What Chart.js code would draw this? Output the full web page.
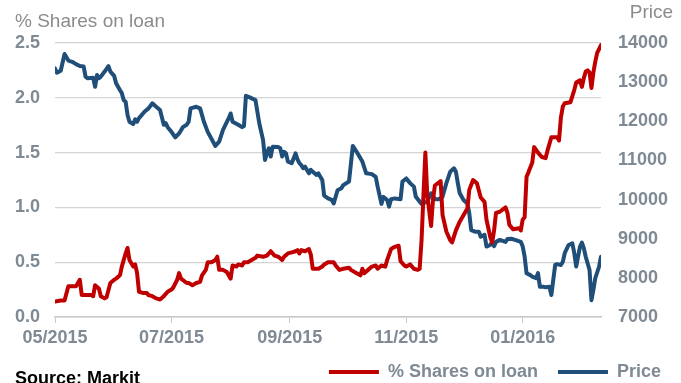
<!DOCTYPE html>
<html>
<head>
<meta charset="utf-8">
<script src="https://cdn.jsdelivr.net/npm/chart.js@4"></script>
<style>
    body { margin: 0; background: #fff; }
    #wrap { position: relative; width: 681px; height: 383px; overflow: hidden; font-family: "Liberation Sans", Arial, sans-serif; }
    .note { position: absolute; white-space: nowrap; }
    #leftTitle { left: 15px; top: 10px; font-size: 19px; color: #8c8c8c; }
    #rightTitle { right: 8px; top: 1px; font-size: 19px; color: #8c8c8c; }
    #source { left: 15px; top: 368px; font-size: 18px; font-weight: bold; color: #000; }
</style>
</head>
<body>
<div id="wrap">
    <canvas id="chart" width="681" height="383"></canvas>
    <div class="note" id="leftTitle">% Shares on loan</div>
    <div class="note" id="rightTitle">Price</div>
    <div class="note" id="source">Source: Markit</div>
</div>
<script>
// x values are days counted from 1 May 2015
const monthDays = [0, 61, 123, 184, 245];
const monthLabels = ['05/2015', '07/2015', '09/2015', '11/2015', '01/2016'];

// % shares on loan (left axis)
const loanDays = [0, 3, 5, 7, 9, 11, 13, 14, 17, 19,
    20, 21, 23, 24, 26, 27, 29, 31, 32, 34,
    35, 37, 38, 39, 41, 42, 43, 44, 46, 48,
    49, 51, 53, 55, 57, 59, 61, 62, 64, 65,
    66, 69, 70, 72, 74, 76, 77, 79, 80, 82,
    84, 85, 86, 88, 90, 92, 93, 95, 96, 98,
    99, 101, 103, 105, 106, 109, 111, 113, 115, 117,
    119, 120, 122, 124, 126, 127, 128, 129, 131, 133,
    134, 135, 138, 140, 141, 143, 146, 147, 149, 151,
    154, 155, 158, 160, 161, 162, 164, 166, 168, 169,
    171, 173, 174, 176, 178, 180, 181, 183, 184, 186,
    188, 190, 191, 192, 193, 194, 195, 197, 198, 199,
    202, 203, 205, 207, 208, 210, 212, 216, 217, 219,
    221, 223, 225, 226, 228, 229, 230, 231, 233, 236,
    237, 238, 240, 243, 244, 245, 246, 247, 248, 250,
    251, 253, 255, 257, 258, 260, 263, 264, 265, 266,
    267, 270, 272, 273, 275, 276, 277, 278, 279, 280,
    281, 282, 283, 284, 286];
const loanValues = [0.14, 0.15, 0.15, 0.28, 0.28, 0.28, 0.34, 0.20, 0.20, 0.20,
    0.19, 0.29, 0.26, 0.19, 0.17, 0.18, 0.31, 0.34, 0.35, 0.38,
    0.46, 0.58, 0.63, 0.52, 0.46, 0.48, 0.40, 0.23, 0.22, 0.22,
    0.20, 0.19, 0.17, 0.16, 0.19, 0.23, 0.25, 0.27, 0.34, 0.40,
    0.35, 0.31, 0.31, 0.29, 0.31, 0.32, 0.38, 0.43, 0.50, 0.50,
    0.52, 0.55, 0.43, 0.43, 0.41, 0.35, 0.47, 0.46, 0.48, 0.47,
    0.50, 0.50, 0.52, 0.54, 0.56, 0.55, 0.56, 0.60, 0.56, 0.55,
    0.52, 0.55, 0.58, 0.59, 0.60, 0.61, 0.58, 0.61, 0.60, 0.62,
    0.57, 0.44, 0.44, 0.46, 0.48, 0.50, 0.50, 0.47, 0.43, 0.44,
    0.45, 0.43, 0.40, 0.38, 0.44, 0.40, 0.43, 0.46, 0.47, 0.44,
    0.47, 0.46, 0.52, 0.62, 0.64, 0.65, 0.51, 0.47, 0.46, 0.48,
    0.44, 0.43, 0.44, 0.70, 1.11, 1.50, 1.11, 0.83, 1.07, 1.20,
    1.24, 0.93, 0.78, 0.70, 0.68, 0.79, 0.87, 0.99, 1.16, 1.25,
    1.22, 1.09, 1.05, 0.89, 0.73, 0.68, 0.79, 0.95, 0.96, 1.00,
    0.95, 0.84, 0.80, 0.81, 0.79, 0.89, 0.91, 1.28, 1.32, 1.41,
    1.55, 1.50, 1.46, 1.45, 1.52, 1.64, 1.64, 1.61, 1.82, 1.92,
    1.95, 1.96, 2.07, 2.14, 2.16, 2.10, 2.18, 2.24, 2.25, 2.23,
    2.09, 2.23, 2.33, 2.41, 2.48];

// share price (right axis)
const priceDays = [0, 1, 3, 5, 7, 9, 11, 13, 15, 16,
    17, 20, 21, 22, 23, 24, 26, 28, 29, 31,
    32, 34, 35, 36, 37, 38, 39, 41, 42, 43,
    44, 47, 49, 51, 53, 55, 57, 58, 59, 61,
    63, 65, 67, 69, 70, 71, 74, 76, 78, 80,
    84, 86, 88, 91, 92, 93, 96, 98, 99, 100,
    102, 105, 107, 109, 110, 111, 112, 113, 114, 117,
    118, 119, 120, 121, 122, 124, 126, 127, 128, 129,
    130, 131, 133, 134, 135, 137, 138, 139, 140, 141,
    143, 145, 146, 148, 150, 151, 154, 156, 158, 161,
    163, 166, 168, 169, 171, 172, 174, 175, 176, 178,
    181, 182, 184, 186, 188, 189, 192, 195, 197, 199,
    201, 203, 205, 207, 209, 210, 211, 212, 214, 216,
    217, 218, 220, 222, 223, 225, 226, 228, 229, 230,
    231, 233, 236, 237, 239, 241, 244, 245, 246, 247,
    249, 250, 252, 253, 254, 256, 257, 259, 260, 261,
    262, 263, 265, 266, 267, 269, 271, 272, 273, 274,
    275, 276, 277, 278, 280, 281, 282, 283, 285, 286];
const priceValues = [13350, 13240, 13290, 13720, 13550, 13520, 13460, 13410, 13400, 13140,
    13100, 13110, 12880, 13180, 13100, 13140, 13270, 13410, 13270, 13160,
    12970, 12800, 12720, 12540, 12500, 12160, 11990, 11930, 12050, 11990,
    12080, 12250, 12330, 12460, 12370, 12290, 11910, 11950, 11850, 11730,
    11590, 11690, 11850, 11910, 11990, 12330, 12370, 12330, 11990, 11730,
    11370, 11480, 11780, 12080, 12200, 11990, 11910, 11850, 11880, 12650,
    12610, 12540, 11950, 11520, 11010, 11180, 11310, 11100, 11350, 11340,
    11310, 11100, 11220, 11180, 10970, 10930, 11180, 11030, 10930, 10880,
    10800, 10840, 10670, 10760, 10710, 10630, 10670, 10580, 10500, 10100,
    10030, 9990, 9900, 10240, 10290, 10370, 10460, 11370, 11220, 10970,
    10670, 10650, 10580, 10330, 9890, 10070, 9990, 9820, 10010, 10030,
    10010, 10460, 10540, 10420, 10330, 10070, 9890, 9950, 10160, 10010,
    10010, 10070, 10420, 10710, 10800, 10710, 10420, 10160, 9990, 9900,
    9650, 9220, 9180, 9180, 9050, 9100, 8800, 8840, 8920, 8810,
    8920, 8970, 8920, 8990, 9000, 8970, 8920, 8800, 8540, 8120,
    8070, 8030, 7990, 8120, 7770, 7770, 7760, 7770, 7560, 7950,
    8330, 8350, 8330, 8410, 8630, 8840, 8880, 8630, 8290, 8540,
    8800, 8900, 8760, 8540, 8200, 7430, 7690, 7990, 8290, 8540];

const labelColor = '#7f8a94';
const labelFont = { family: 'Liberation Sans', size: 18, weight: 'bold' };

function toPoints(days, values) {
    return days.map((d, i) => ({ x: d, y: values[i] }));
}

new Chart(document.getElementById('chart'), {
    type: 'line',
    data: {
        datasets: [{
            label: '% Shares on loan',
            data: toPoints(loanDays, loanValues),
            yAxisID: 'yLoan',
            borderColor: '#c00000',
            backgroundColor: '#c00000',
            borderWidth: 4,
            borderJoinStyle: 'round',
            borderCapStyle: 'round',
            pointRadius: 0,
            tension: 0
        }, {
            label: 'Price',
            data: toPoints(priceDays, priceValues),
            yAxisID: 'yPrice',
            borderColor: '#1f4e79',
            backgroundColor: '#1f4e79',
            borderWidth: 4,
            borderJoinStyle: 'round',
            borderCapStyle: 'round',
            pointRadius: 0,
            tension: 0
        }]
    },
    options: {
        responsive: false,
        animation: false,
        layout: { padding: { top: 43, bottom: -8, left: 0, right: 0 } },
        plugins: {
            tooltip: { enabled: false },
            legend: {
                position: 'bottom',
                align: 'end',
                labels: {
                    usePointStyle: true,
                    pointStyle: 'line',
                    pointStyleWidth: 50,
                    padding: 20,
                    color: labelColor,
                    font: labelFont
                }
            }
        },
        scales: {
            x: {
                type: 'linear',
                min: 0,
                max: 286,
                afterBuildTicks: scale => {
                    scale.ticks = monthDays.map(v => ({ value: v }));
                },
                afterFit: scale => { scale.height = 26; },
                grid: { drawOnChartArea: false, drawTicks: true, tickLength: 6, color: '#c8c8c8', tickColor: '#c8c8c8' },
                border: { color: '#c8c8c8', width: 1.5 },
                ticks: {
                    autoSkip: false,
                    maxRotation: 0,
                    padding: 4,
                    color: labelColor,
                    font: labelFont,
                    callback: (value, index) => monthLabels[index]
                }
            },
            yLoan: {
                position: 'left',
                min: 0,
                max: 2.5,
                afterFit: scale => { scale.width = 55; },
                grid: { color: '#d4d4d4', lineWidth: 1.2, drawTicks: false },
                border: { display: false },
                ticks: {
                    stepSize: 0.5,
                    padding: 15,
                    color: labelColor,
                    font: labelFont,
                    callback: value => value.toFixed(1)
                }
            },
            yPrice: {
                position: 'right',
                min: 7000,
                max: 14000,
                afterFit: scale => { scale.width = 80; },
                grid: { drawOnChartArea: false, drawTicks: false },
                border: { display: false },
                ticks: {
                    stepSize: 1000,
                    padding: 17,
                    color: labelColor,
                    font: labelFont,
                    callback: value => String(value)
                }
            }
        }
    }
});
</script>
</body>
</html>
